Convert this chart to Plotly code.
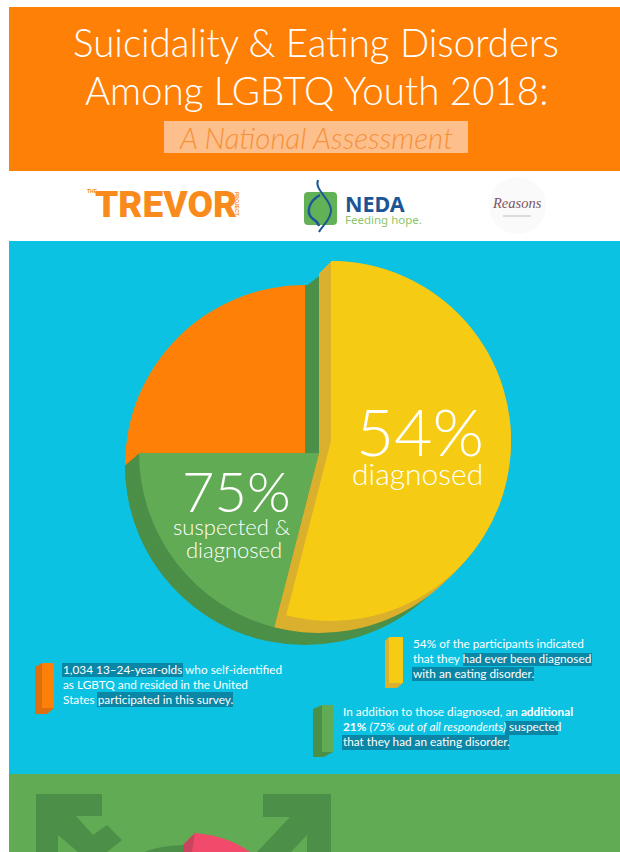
import plotly.graph_objects as go

W, H = 620, 852

# Survey shares, in percent of all respondents
diagnosed_share = 54
suspected_share = 21
other_share = 25
headline_diagnosed = "54%"
headline_combined = "75%"

title_lines = ["Suicidality &amp; Eating Disorders", "Among LGBTQ Youth 2018:"]
subtitle = "A National Assessment"

note_left = ["1,034 13–24-year-olds who self-identified", "as LGBTQ and resided in the United",
             "States participated in this survey."]
note_right = ["54% of the participants indicated", "that they had ever been diagnosed",
              "with an eating disorder."]
note_lower = ["In addition to those diagnosed, an <b>additional</b>",
              "<b>21%</b> <i>(75% out of all respondents)</i> suspected",
              "that they had an eating disorder."]

ORANGE = "#ff8006"
YELLOW = "#f6cb14"
GOLD = "#dab02e"
GREEN = "#60ab53"
DARK_GREEN = "#4c8f48"
BLUE = "#0cc2e2"
HILITE = "#0a87a6"
CLEAR = "rgba(0,0,0,0)"
BODY = "Lato"
PIE_R = 180

fig = go.Figure()
shapes, notes = [], []


def rect(x0, y0, x1, y1, color):
    shapes.append(dict(type="rect", xref="x", yref="y", x0=x0, y0=y0, x1=x1, y1=y1,
                       fillcolor=color, line_width=0, layer="below"))


def path(d, fill=None, stroke=None, width=0):
    shapes.append(dict(type="path", xref="x", yref="y", path=d, layer="below",
                       fillcolor=fill or CLEAR,
                       line=dict(color=stroke or CLEAR, width=width)))


def text(x, y, s, size, color="#ffffff", anchor="center", family=BODY, weight=None, angle=0, italic=False):
    font = dict(size=size, color=color, family=family)
    if weight:
        font["weight"] = weight
    if italic:
        font["style"] = "italic"
    notes.append(dict(xref="x", yref="y", x=x, y=y, text=s, showarrow=False, font=font,
                      xanchor=anchor, yanchor="middle", textangle=angle, borderpad=0))


def wedge(share, start_share, color, cx, cy, r=PIE_R):
    """One pie slice; the remainder of the circle stays transparent."""
    fig.add_trace(go.Pie(
        values=[share, 100 - share], marker=dict(colors=[color, CLEAR], line=dict(width=0)),
        rotation=start_share * 3.6, direction="clockwise", sort=False, textinfo="none",
        hoverinfo="skip", showlegend=False,
        domain=dict(x=[(cx - r) / W, (cx + r) / W], y=[1 - (cy + r) / H, 1 - (cy - r) / H])))


def extrude(share, start_share, color, a, b):
    """Sweep a slice from point a to point b to give it a solid side wall."""
    steps = int(max(abs(a[0] - b[0]), abs(a[1] - b[1])))
    for i in range(steps + 1):
        t = i / max(steps, 1)
        wedge(share, start_share, color, a[0] + (b[0] - a[0]) * t, a[1] + (b[1] - a[1]) * t)


fig.add_trace(go.Scatter(x=[], y=[], hoverinfo="skip", showlegend=False))

# Page bands
rect(9, 7, W, 171, ORANGE)
rect(9, 241, W, 774, BLUE)
rect(9, 774, W, H, GREEN)

# Header
text(316, 42, title_lines[0], 38.5, weight=300)
text(316, 90, title_lines[1], 38.5, weight=300)
rect(164, 121, 468, 153, "#fdc08c")
text(316, 137, subtitle, 29.5, color="#f5913a", weight=300, italic=True)

# Partner logos
text(166, 204, "TREVOR", 37, color="#f98a1c", family="Roboto", weight=900)
text(92, 191, "<b>THE</b>", 5, color="#f98a1c", family="Liberation Sans")
text(237, 204, "<b>PROJECT</b>", 5, color="#f98a1c", family="Liberation Sans", angle=90)
path("M308,192 L333,192 Q337,192 337,196 L337,221 Q337,225 333,225 L308,225 Q304,225 304,221 "
     "L304,196 Q304,192 308,192 Z", fill="#63b157")
path("M318,180 C314,190 331,199 331,210 C331,220 322,226 319,232", stroke="#1d5796", width=2)
path("M320,195 C309,201 305,213 313,219 C316,221 318,222 319,226", stroke="#1d5796", width=2.5)
text(344, 203, "<b>NEDA</b>", 21.5, color="#1c5594", anchor="left", family="Noto Sans")
text(344, 219, "Feeding hope.", 11.5, color="#8cc56c", anchor="left", family="Noto Sans")
shapes.append(dict(type="circle", xref="x", yref="y", x0=489, y0=177, x1=546, y1=234,
                   fillcolor="#fafafb", line_width=0, layer="below"))
text(517, 203, "Reasons", 14.5, color="#7a5566", family="Liberation Serif", italic=True)
path("M503,216 L531,216", stroke="#c4bac0", width=1)

# Pie: the floor of the solid first, then side walls, then the top faces
path("M305,287 L319,276 L319,455 L305,455 Z", fill=DARK_GREEN)
wedge(75, 0, DARK_GREEN, 305, 465)
wedge(other_share, 75, ORANGE, 305, 465)
extrude(suspected_share, diagnosed_share, DARK_GREEN, (305, 465), (319, 453))
wedge(suspected_share, diagnosed_share, GREEN, 319, 453)
extrude(diagnosed_share, 0, GOLD, (319, 453), (331, 441))
wedge(diagnosed_share, 0, YELLOW, 331, 441)

text(420, 430, headline_diagnosed, 66, weight=300)
text(417, 473, "diagnosed", 30, weight=300)
text(236, 490, headline_combined, 56, weight=300)
text(232, 526, "suspected &amp;", 22, weight=300)
text(234, 549, "diagnosed", 22, weight=300)

# Callout tags
path("M42,663 L35,667 L35,714 L47,714 L54,708 L42,708 Z", fill="#dd6f10")
rect(42, 663, 54, 708, ORANGE)
path("M389,637 L385,641 L385,688 L397,688 L403,683 L389,683 Z", fill=GOLD)
rect(389, 637, 403, 683, YELLOW)
path("M322,705 L313,709 L313,757 L324,757 L333,752 L322,752 Z", fill=DARK_GREEN)
rect(322, 705, 333, 752, GREEN)

# Highlight bars behind parts of the notes
rect(62, 663, 183, 677, HILITE)
rect(97, 692, 233, 707, HILITE)
rect(463, 653, 592, 666, HILITE)
rect(412, 667, 534, 681, HILITE)
rect(505, 721, 558, 735, HILITE)
rect(342, 735, 509, 750, HILITE)

for y, s in zip((669, 684, 699), note_left):
    text(62, y, s, 11.8, anchor="left", weight=400)
for y, s in zip((643.5, 658.5, 673.5), note_right):
    text(412, y, s, 11.8, anchor="left", weight=400)
for y, s in zip((711, 726, 741), note_lower):
    text(342, y, s, 11.8, anchor="left", weight=400)

# Top of the next panel
path("M36,794 L102,794 L102,816 L76,816 L93,835 L107,825 L122,840 L107,852 L78,852 L58,835 L58,852 L36,852 Z",
     fill=DARK_GREEN)
path("M263,794 L331,794 L331,852 L307,852 L307,835 L291,852 L257,852 L290,817 L263,817 Z", fill=DARK_GREEN)
path("M145,852 Q160,845 190,845 L190,852 Z", fill=DARK_GREEN)
path("M183,852 L183,845 L195,833 Q228,836 250,852 Z", fill="#f14a6b")
path("M183,852 L183,845 L195,833 L192,852 Z", fill="#c9455f")

fig.update_layout(
    width=W, height=H, autosize=False, margin=dict(l=0, r=0, t=0, b=0),
    paper_bgcolor="#ffffff", plot_bgcolor="#ffffff",
    xaxis=dict(range=[0, W], visible=False, fixedrange=True),
    yaxis=dict(range=[H, 0], visible=False, fixedrange=True),
    shapes=shapes, annotations=notes)

fig.write_html("out.html", config=dict(displayModeBar=False))
